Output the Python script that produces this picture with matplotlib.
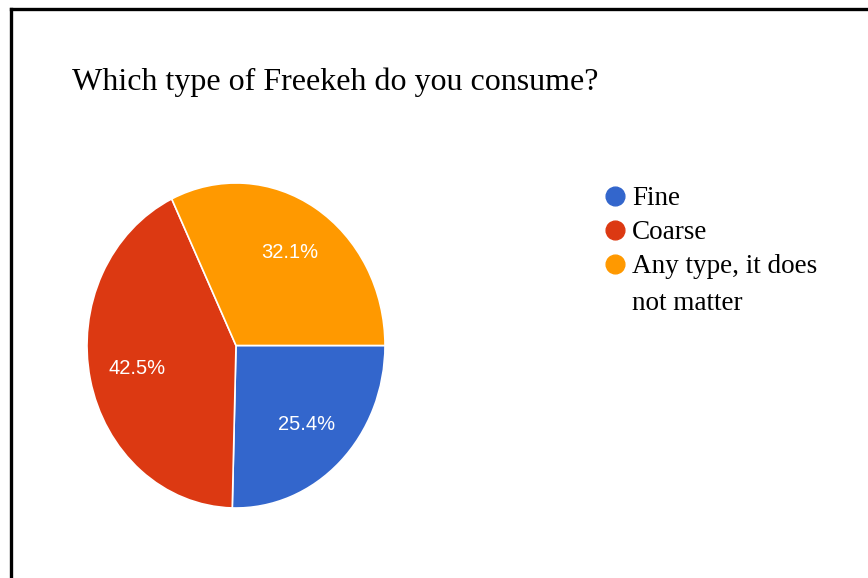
import matplotlib
matplotlib.use("Agg")
import matplotlib.pyplot as plt
from matplotlib.lines import Line2D

categories = ["Fine", "Coarse", "Any type, it does\nnot matter"]
shares = [25.4, 42.5, 32.1]
colors = ["#3366CC", "#DC3912", "#FF9900"]
title = "Which type of Freekeh do you consume?"

W, H = 868, 578
fig = plt.figure(figsize=(W / 100, H / 100), dpi=100)
fig.patch.set_facecolor("white")

# frame lines (top and left)
fig.add_artist(Line2D([11 / W, 1.0], [1 - 9 / H, 1 - 9 / H], color="black", lw=2.4,
                      transform=fig.transFigure))
fig.add_artist(Line2D([11 / W, 11 / W], [0.0, 1 - 9 / H], color="black", lw=2.4,
                      transform=fig.transFigure))

# title
fig.text(72 / W, 1 - 90 / H, title, fontsize=23, family="Liberation Serif",
         ha="left", va="baseline", color="black")

# pie (slightly taller than wide)
left, right, top, bottom = 87, 385, 183, 508
ax = fig.add_axes([left / W, 1 - bottom / H, (right - left) / W, (bottom - top) / H])
wedges, texts, autotexts = ax.pie(
    shares, colors=colors, startangle=0, counterclock=False,
    autopct="%.1f%%", pctdistance=0.68, radius=1.0,
    wedgeprops=dict(edgecolor="white", linewidth=1.2),
    textprops=dict(color="white", fontsize=14.5, family="Liberation Sans"),
)
ax.set_xlim(-1, 1)
ax.set_ylim(-1, 1)
ax.set_aspect("auto")
ax.axis("off")

# legend
marker_y = [196, 230, 264]
text_y = [205, 239, 273]
line_step = 37
for name, col, my, ty in zip(categories, colors, marker_y, text_y):
    fig.add_artist(Line2D([615 / W], [1 - my / H], marker="o", markersize=13.5,
                          color=col, markeredgecolor=col, linestyle="none",
                          transform=fig.transFigure))
    for i, line in enumerate(name.split("\n")):
        fig.text(632 / W, 1 - (ty + i * line_step) / H, line, fontsize=19.5,
                 family="Liberation Serif", ha="left", va="baseline", color="black")

fig.savefig("out.png", dpi=100, facecolor="white")
